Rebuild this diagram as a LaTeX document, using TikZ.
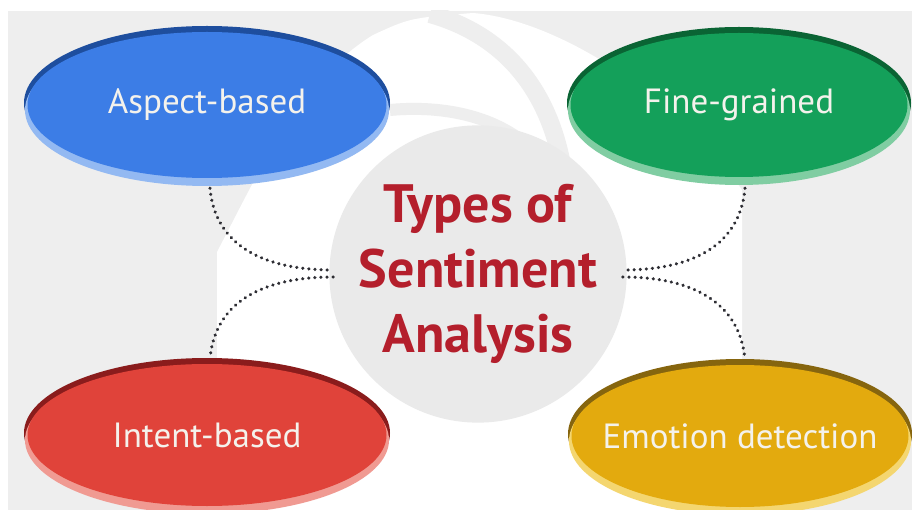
\documentclass[tikz,border=0pt]{standalone}
\usepackage{fontspec}
\setmainfont{PT Sans}
\usetikzlibrary{shapes.geometric,calc}

\definecolor{backgray}{HTML}{EEEEEE}
\definecolor{hubgray}{HTML}{EAEAEA}
\definecolor{title}{HTML}{B41F2C}
\definecolor{capt}{HTML}{F4F2EC}
\definecolor{dots}{HTML}{2E2E34}
% three tones per ellipse: dark rim, main face, light rim
\definecolor{bluD}{HTML}{1E4E9E}\definecolor{bluM}{HTML}{3C7DE6}\definecolor{bluL}{HTML}{93B9F2}
\definecolor{grnD}{HTML}{0A6434}\definecolor{grnM}{HTML}{14A05A}\definecolor{grnL}{HTML}{80CDA2}
\definecolor{redD}{HTML}{8A1C1C}\definecolor{redM}{HTML}{E0433A}\definecolor{redL}{HTML}{F09A92}
\definecolor{yelD}{HTML}{86650E}\definecolor{yelM}{HTML}{E3AA0E}\definecolor{yelL}{HTML}{F4D670}

\begin{document}
\begin{tikzpicture}[x=1pt, y=-1pt,
    blob/.style = {ellipse, inner xsep=-60pt, inner ysep=-10pt, text=capt,
                   font=\fontsize{35}{35}\selectfont},
    hub/.style = {circle, fill=hubgray, minimum size=294pt, inner sep=0pt, align=center,
                  text=title, font=\bfseries\fontsize{54}{65}\selectfont},
    link/.style = {draw=dots, line width=3.4pt, line cap=round, dash pattern=on 0.1pt off 6pt}]
  \useasboundingbox (0,0) rectangle (912,510);
  \clip (0,0) rectangle (912,510);
  \fill[white] (0,0) rectangle (912,510);
  \fill[backgray] (8,11) rectangle (912,510);

  % white swirl behind the middle
  \begin{scope}
    \clip (8,11) rectangle (912,510);
    \fill[white] (217,510) -- (217,252) .. controls (260,170) and (300,80) .. (373,35)
      .. controls (410,18) .. (473,13) .. controls (560,20) and (680,100) .. (742,190)
      -- (742,510) -- cycle;
    \draw[backgray, line width=18pt] (430,14) .. controls (505,35) and (548,90) .. (562,165);
    \draw[backgray, line width=12pt] (390,110) .. controls (455,104) and (515,122) .. (545,165);
  \end{scope}

  \node[hub] (hub) at (478,274) {Types of\\Sentiment\\Analysis};

  \foreach \nm/\cx/\cy/\rx/\ry/\tone/\txt in {
      asp/207/106/183/80/blu/Aspect-based,
      fin/739/106/172/79/grn/Fine-grained,
      int/207/436/183/78/red/Intent-based,
      emo/740/437/172/78/yel/Emotion detection}
  {
    \fill[\tone D] (\cx,\cy-3) ellipse [x radius=\rx, y radius=\ry-3];
    \fill[\tone L] (\cx,\cy+4) ellipse [x radius=\rx-1, y radius=\ry-4];
    \node[blob, fill=\tone M, minimum width=2*\rx-7, minimum height=2*\ry-14] (\nm) at (\cx,\cy-1) {\txt};
  }

  % dotted links into the hub
  \draw[link] ($(asp.south)+(3,10)$) .. controls +(5,57) and +(-70,0) .. ($(hub.west)+(4,-4)$);
  \draw[link] ($(hub.west)+(4,3)$) .. controls +(-70,0) and +(5,-57) .. ($(int.north)+(3,-5)$);
  \draw[link] ($(fin.south)+(6,11)$) .. controls +(-5,57) and +(70,0) .. ($(hub.east)+(-4,-4)$);
  \draw[link] ($(hub.east)+(-4,3)$) .. controls +(70,0) and +(-5,-57) .. ($(emo.north)+(5,-5)$);
\end{tikzpicture}
\end{document}
